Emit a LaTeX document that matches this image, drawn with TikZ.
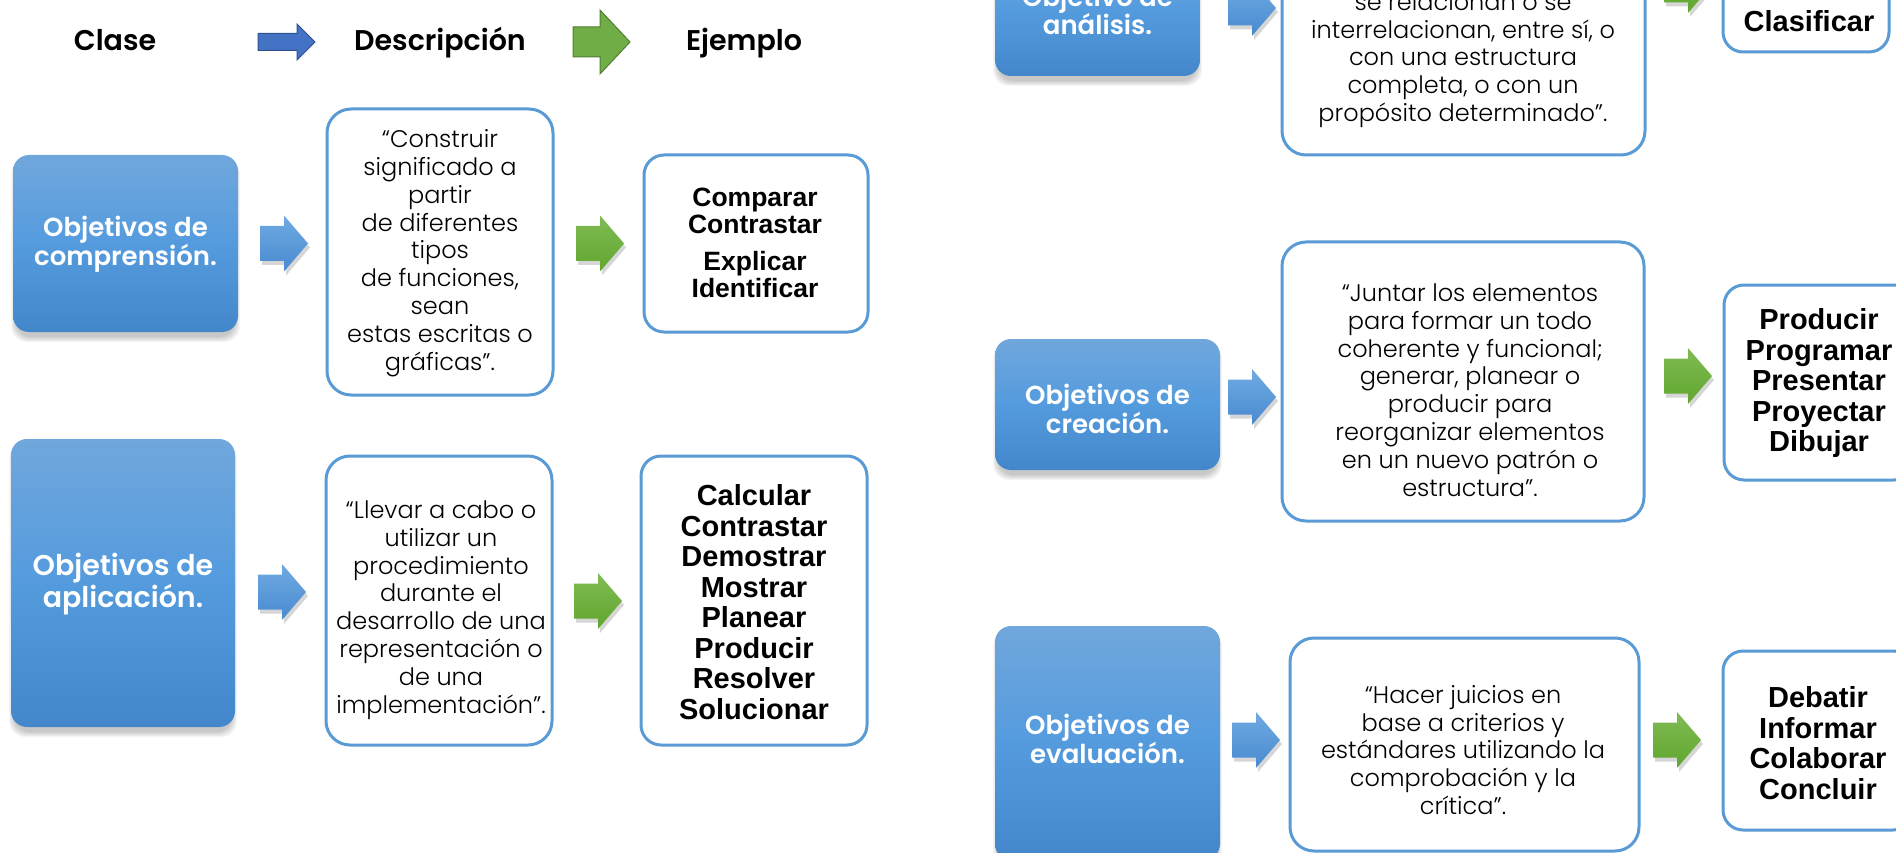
\documentclass[tikz,border=0pt]{standalone}
\usepackage{fontspec}
\setmainfont{Poppins}
\newfontfamily\descfont{Poppins Light}
\newfontfamily\semifont{Poppins SemiBold}
\newfontfamily\exfont{Liberation Sans}
\definecolor{boxtop}{RGB}{112,167,220}
\definecolor{boxmid}{RGB}{84,155,222}
\definecolor{boxbot}{RGB}{67,135,202}
\definecolor{frameblue}{RGB}{91,155,213}
\definecolor{hdblue}{RGB}{68,114,196}
\definecolor{hdblueline}{RGB}{47,82,143}
\definecolor{hdgreen}{RGB}{112,173,71}
\definecolor{hdgreenline}{RGB}{80,126,50}
\definecolor{arbtop}{RGB}{112,170,226}
\definecolor{arbbot}{RGB}{72,138,208}
\definecolor{argtop}{RGB}{128,187,84}
\definecolor{argbot}{RGB}{96,166,46}
\newcommand\blockarrow[8]{%
  \coordinate (#1) at (#3,#4);
  \path[#2] (#3,#4-#7) -- (#3+#5-#6,#4-#7) -- (#3+#5-#6,#4-#8) -- (#3+#5,#4)
    -- (#3+#5-#6,#4+#8) -- (#3+#5-#6,#4+#7) -- (#3,#4+#7) -- cycle;}
\newcommand\smallarrow[4]{% name, x, yc, colour kind
  \blockarrow{#1s}{fill=black,opacity=0.16,xshift=2pt,yshift=-4pt}{#2}{#3}{48}{24}{17.5}{28}%
  \blockarrow{#1}{top color=ar#4top,bottom color=ar#4bot}{#2}{#3}{48}{24}{17.5}{28}}
\newcommand\softshadow[4]{%
  \foreach \i in {0,...,5}{%
    \fill[black,opacity=0.04,rounded corners=16pt] (#1-\i+3,#2+8-\i) rectangle (#3+\i-3,#4+5+\i);}}
\begin{document}
\begin{tikzpicture}[x=1pt,y=-1pt,
  classbox/.style={rounded corners=16pt,top color=boxtop,bottom color=boxbot,middle color=boxmid,
    inner sep=0pt,draw=none},
  classtxt/.style={text=white,align=center,font=\semifont\fontsize{26}{28}\selectfont},
  descbox/.style={draw=frameblue,line width=3pt,rounded corners=24pt,fill=white,inner sep=0pt},
  desctxt/.style={align=center,font=\descfont\fontsize{24}{27.8}\selectfont},
  exbox/.style={draw=frameblue,line width=3pt,rounded corners=20pt,fill=white,inner sep=0pt},
  extxt/.style={align=center,font=\exfont\bfseries\fontsize{29}{30.5}\selectfont},
  hdtxt/.style={anchor=base,font=\semifont\fontsize{28.5}{30}\selectfont},
]
\useasboundingbox (0,0) rectangle (1896,853);
\clip (0,0) rectangle (1896,853);

% headers
\node[hdtxt] (hclase) at (115,51) {Clase};
\node[hdtxt] (hdesc) at (440,51) {Descripción};
\node[hdtxt] (hej) at (744,51) {Ejemplo};
\blockarrow{ha1}{fill=hdblue,draw=hdblueline,line width=1pt}{258}{42}{57}{18}{8.5}{18}
\blockarrow{ha2}{fill=hdgreen,draw=hdgreenline,line width=1pt}{573}{42}{57}{30}{15}{32}

% ---------- comprension
\softshadow{13}{155}{238}{332}
\node[classbox,minimum width=225pt,minimum height=177pt] (c1) at (125.5,243.5) {};
\node[classtxt] (c1t) at (125.5,244) {Objetivos de\\comprensión.};
\smallarrow{a1}{260}{243.5}{b}
\node[descbox,minimum width=226pt,minimum height=286pt] (d1) at (440,252) {};
\node[desctxt] (d1t) at (440,253) {“Construir\\significado a\\partir\\de diferentes\\tipos\\de funciones,\\sean\\estas escritas o\\gráficas”.};
\smallarrow{g1}{576}{243.5}{g}
\node[exbox,minimum width=224pt,minimum height=177pt] (e1) at (756,243.5) {};
\node[extxt,font=\exfont\bfseries\fontsize{26.5}{27}\selectfont] (e1t) at (755,243) {Comparar\\Contrastar\\[10pt]Explicar\\Identificar};

% ---------- aplicacion
\softshadow{11}{439}{235}{727}
\node[classbox,minimum width=224pt,minimum height=288pt] (c2) at (123,583) {};
\node[classtxt,font=\semifont\fontsize{28.5}{32}\selectfont] (c2t) at (123,584) {Objetivos de\\aplicación.};
\smallarrow{a2}{258}{592}{b}
\node[descbox,minimum width=226pt,minimum height=289pt] (d2) at (439,600.5) {};
\node[desctxt] (d2t) at (441,610) {“Llevar a cabo o\\utilizar un\\procedimiento\\durante el\\desarrollo de una\\representación o\\de una\\implementación”.};
\smallarrow{g2}{574}{601}{g}
\node[exbox,minimum width=226pt,minimum height=289pt] (e2) at (754,600.5) {};
\node[extxt] (e2t) at (754,602) {Calcular\\Contrastar\\Demostrar\\Mostrar\\Planear\\Producir\\Resolver\\Solucionar};

% ---------- analisis
\softshadow{995}{-55}{1200}{76}
\node[classbox,minimum width=205pt,minimum height=131pt] (c3) at (1097.5,10.5) {};
\node[classtxt] (c3t) at (1097.5,10) {Objetivo de\\análisis.};
\smallarrow{a3}{1228}{8}{b}
\node[descbox,minimum width=363pt,minimum height=360pt] (d3) at (1463.5,-25) {};
\node[desctxt] (d3t) at (1463,60) {se relacionan o se\\interrelacionan, entre sí, o\\con una estructura\\completa, o con un\\propósito determinado”.};
\smallarrow{g3}{1664}{-15}{g}
\node[exbox,minimum width=166pt,minimum height=200pt] (e3) at (1806,-48) {};
\node[extxt] (e3t) at (1809,21) {Clasificar};

% ---------- creacion
\softshadow{995}{339}{1220}{470}
\node[classbox,minimum width=225pt,minimum height=131pt] (c4) at (1107.5,404.5) {};
\node[classtxt] (c4t) at (1107.5,409) {Objetivos de\\creación.};
\smallarrow{a4}{1228}{397}{b}
\node[descbox,minimum width=362pt,minimum height=279pt] (d4) at (1463,381.5) {};
\node[desctxt] (d4t) at (1470,390) {“Juntar los elementos\\para formar un todo\\coherente y funcional;\\generar, planear o\\producir para\\reorganizar elementos\\en un nuevo patrón o\\estructura”.};
\smallarrow{g4}{1664}{376}{g}
\node[exbox,minimum width=190pt,minimum height=195pt] (e4) at (1819,382.5) {};
\node[extxt] (e4t) at (1819,383) {Producir\\Programar\\Presentar\\Proyectar\\Dibujar};

% ---------- evaluacion
\softshadow{995}{626}{1220}{860}
\node[classbox,minimum width=225pt,minimum height=234pt] (c5) at (1107.5,743) {};
\node[classtxt] (c5t) at (1107.5,739) {Objetivos de\\evaluación.};
\smallarrow{a5}{1232}{740}{b}
\node[descbox,minimum width=349pt,minimum height=213pt] (d5) at (1464.5,744.5) {};
\node[desctxt] (d5t) at (1463,750) {“Hacer juicios en\\base a criterios y\\estándares utilizando la\\comprobación y la\\crítica”.};
\smallarrow{g5}{1653}{740}{g}
\node[exbox,minimum width=190pt,minimum height=179pt] (e5) at (1818,740.5) {};
\node[extxt] (e5t) at (1818,743) {Debatir\\Informar\\Colaborar\\Concluir};
\end{tikzpicture}
\end{document}
